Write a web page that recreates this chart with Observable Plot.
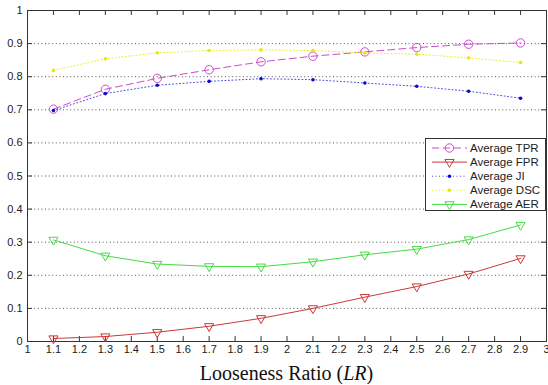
<!DOCTYPE html>
<html>
<head>
<meta charset="utf-8">
<script src="https://cdn.jsdelivr.net/npm/d3@7"></script>
<script src="https://cdn.jsdelivr.net/npm/@observablehq/plot@0.6"></script>
<style>
  body { margin: 0; background: #fff; }
  #cap { width: 523px; padding-left: 25px; text-align: center; font-family: "Liberation Serif", "Times New Roman", serif; font-size: 20px; line-height: 22px; color: #111; }
</style>
</head>
<body>
<div id="chart"></div>
<div id="cap">Looseness Ratio (<i>LR</i>)</div>
<script>
const lr = [1.1, 1.3, 1.5, 1.7, 1.9, 2.1, 2.3, 2.5, 2.7, 2.9];
const tpr = [0.702, 0.762, 0.795, 0.821, 0.845, 0.862, 0.875, 0.888, 0.898, 0.902];
const fpr = [0.009, 0.015, 0.028, 0.046, 0.070, 0.100, 0.134, 0.166, 0.204, 0.251];
const ji  = [0.698, 0.749, 0.774, 0.786, 0.794, 0.791, 0.781, 0.771, 0.756, 0.735];
const dsc = [0.819, 0.854, 0.872, 0.879, 0.881, 0.879, 0.872, 0.868, 0.857, 0.843];
const aer = [0.307, 0.259, 0.234, 0.227, 0.226, 0.241, 0.262, 0.279, 0.308, 0.352];
const seriesNames = ["Average TPR", "Average FPR", "Average JI", "Average DSC", "Average AER"];
const xTicks = [1, 1.1, 1.2, 1.3, 1.4, 1.5, 1.6, 1.7, 1.8, 1.9, 2, 2.1, 2.2, 2.3, 2.4, 2.5, 2.6, 2.7, 2.8, 2.9, 3];
const yTicks = [0, 0.1, 0.2, 0.3, 0.4, 0.5, 0.6, 0.7, 0.8, 0.9, 1];

const styles = [
  {values: tpr, stroke: "#cc4ccc", dash: "7,4", marker: "circle", r: 4.2, fill: "none", mstroke: "#cc4ccc", rotate: 0},
  {values: fpr, stroke: "#cc3838", dash: null, marker: "triangle", r: 3.4, fill: "none", mstroke: "#cc3838", rotate: 180},
  {values: ji,  stroke: "#4a4ae6", dash: "1,2.5", marker: "circle", r: 1.8, fill: "#0a0acc", mstroke: "none", rotate: 0},
  {values: dsc, stroke: "#eeee20", dash: "1,2.5", marker: "circle", r: 1.8, fill: "#e8e800", mstroke: "none", rotate: 0},
  {values: aer, stroke: "#44dd44", dash: null, marker: "triangle", r: 3.4, fill: "none", mstroke: "#44dd44", rotate: 180}
];

const data = styles.map((s, i) => lr.map((x, j) => ({x, y: s.values[j], series: seriesNames[i]})));

const marks = [
  Plot.ruleY(yTicks.slice(1, -1), {stroke: "#555", strokeDasharray: "1,2.6", strokeWidth: 1}),
  Plot.frame({stroke: "#333"}),
  Plot.ruleX(xTicks.slice(1, -1), {y1: 0, y2: 0.015, stroke: "#333"}),
  Plot.ruleX(xTicks.slice(1, -1), {y1: 0.985, y2: 1, stroke: "#333"}),
  Plot.ruleY(yTicks.slice(1, -1), {x1: 1, x2: 1.019, stroke: "#333"}),
  Plot.ruleY(yTicks.slice(1, -1), {x1: 2.981, x2: 3, stroke: "#333"}),
  Plot.axisX({ticks: xTicks, tickFormat: d => d3.format("~g")(+d.toFixed(1)), tickSize: 0, tickPadding: 4, label: null, fontSize: 11, fill: "#222"}),
  Plot.axisY({ticks: yTicks, tickFormat: d => d3.format("~g")(+d.toFixed(1)), tickSize: 0, tickPadding: 5, label: null, fontSize: 11, fill: "#222"})
];
styles.forEach((s, i) => {
  marks.push(Plot.line(data[i], {x: "x", y: "y", stroke: s.stroke, strokeWidth: 1, strokeDasharray: s.dash}));
  marks.push(Plot.dot(data[i], {x: "x", y: "y", symbol: s.marker, r: s.r, fill: s.fill, stroke: s.mstroke, strokeWidth: 1, rotate: s.rotate}));
});

const chart = Plot.plot({
  width: 548,
  height: 362,
  marginLeft: 27,
  marginRight: 2,
  marginTop: 10,
  marginBottom: 21,
  style: {fontFamily: "'Liberation Sans', Arial, sans-serif", fontSize: "11px", background: "#fff"},
  x: {domain: [1, 3]},
  y: {domain: [0, 1]},
  marks
});
document.getElementById("chart").appendChild(chart);

// Legend box (MATLAB-style) drawn into the same SVG
const svg = d3.select(chart);
const lg = svg.append("g").attr("font-family", "'Liberation Sans', Arial, sans-serif").attr("font-size", 11.5).attr("text-anchor", "start");
lg.append("rect").attr("x", 425.5).attr("y", 138.5).attr("width", 120).attr("height", 72).attr("fill", "#fff").attr("stroke", "#333");
const sym = {circle: d3.symbolCircle, triangle: d3.symbolTriangle};
styles.forEach((s, i) => {
  const y = 148 + i * 14.1;
  lg.append("line").attr("x1", 432).attr("x2", 467).attr("y1", y).attr("y2", y)
    .attr("stroke", s.stroke).attr("stroke-dasharray", s.dash);
  lg.append("path").attr("d", d3.symbol(sym[s.marker], Math.PI * s.r * s.r)())
    .attr("transform", `translate(449.5,${y}) rotate(${s.rotate})`)
    .attr("fill", s.fill).attr("stroke", s.mstroke);
  lg.append("text").attr("x", 470).attr("y", y).attr("dy", "0.35em").attr("text-anchor", "start").attr("fill", "#222").text(seriesNames[i]);
});
</script>
</body>
</html>
